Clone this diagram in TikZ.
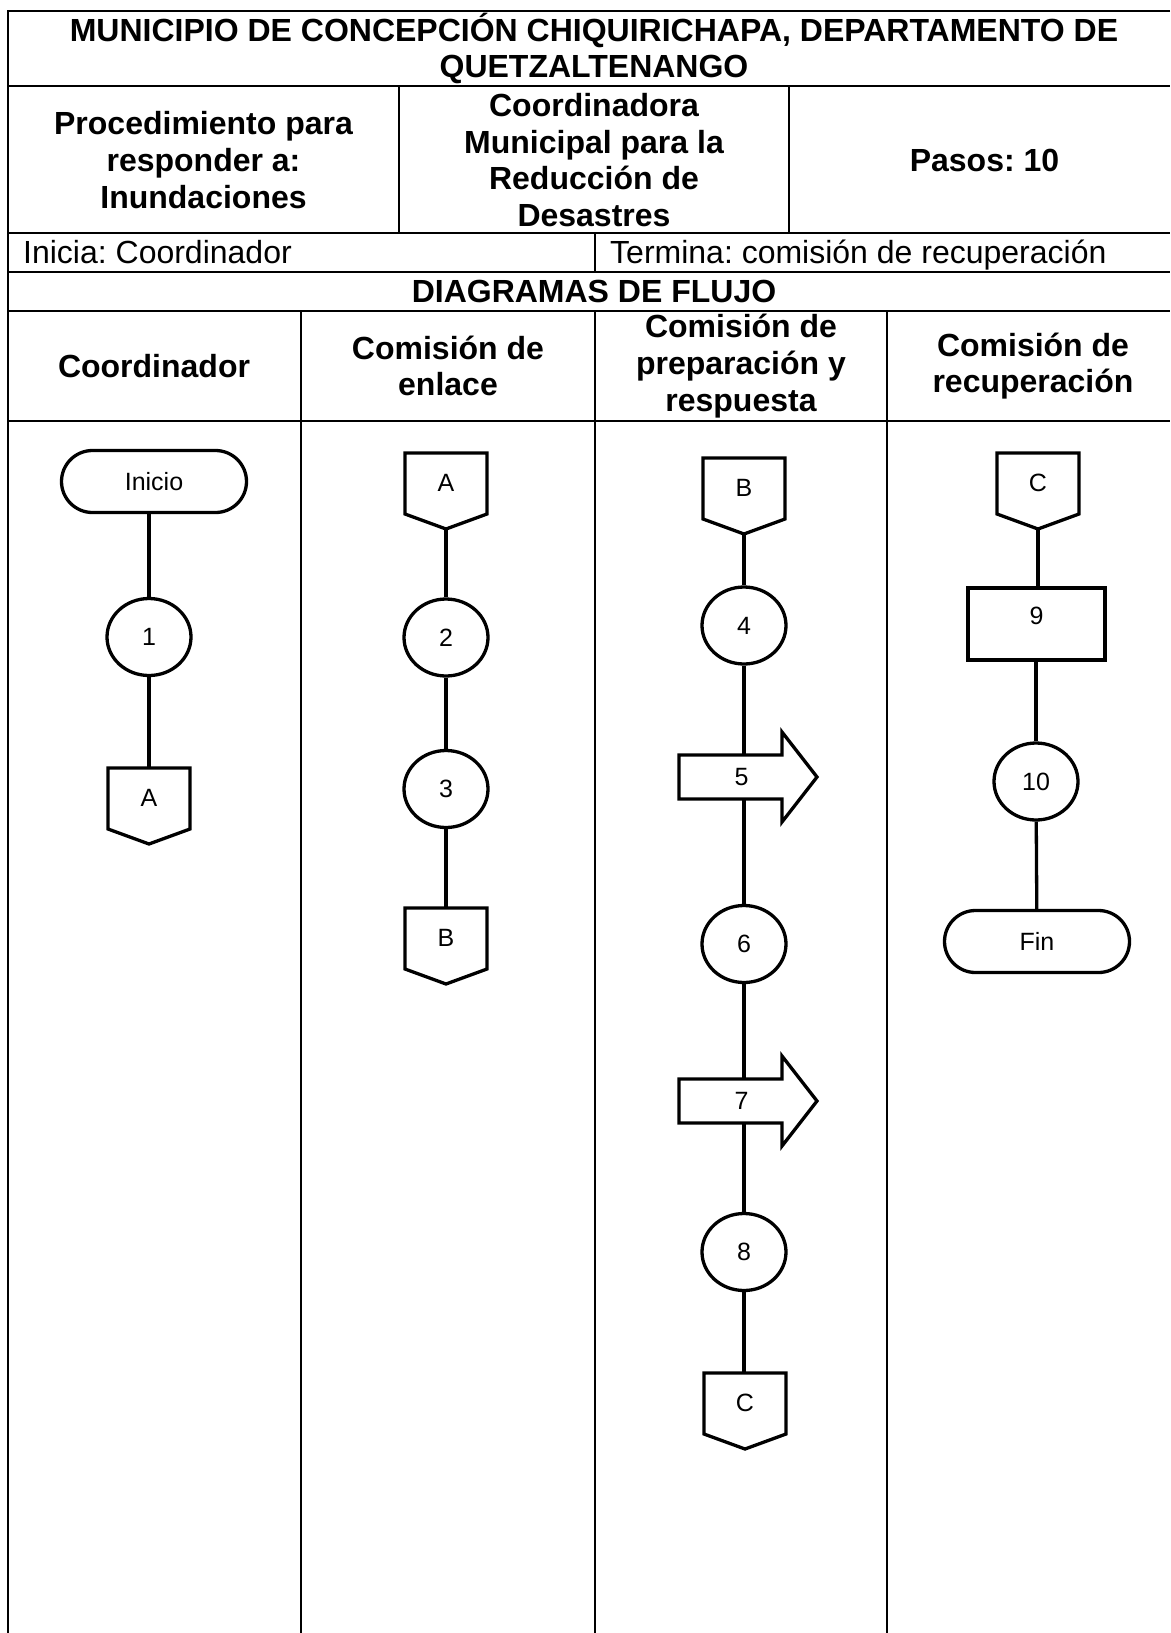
\documentclass[tikz,border=0pt]{standalone}
\usepackage{fontspec}
\setmainfont{Liberation Sans}
\frenchspacing
\usetikzlibrary{shapes.geometric,calc}
\tikzset{
  tbl/.style={line width=2pt},
  hdr/.style={font=\fontsize{32}{36.8}\selectfont\bfseries, align=center, inner sep=0pt},
  txt/.style={font=\fontsize{32}{36.8}\selectfont, inner sep=0pt},
  shapeline/.style={draw, line width=3.3pt, fill=white},
  lbl/.style={font=\fontsize{25}{28}\selectfont, inner sep=0pt},
  stepcirc/.style={shapeline, ellipse, minimum width=84pt, minimum height=77pt, inner sep=0pt, lbl},
  term/.style={shapeline, rectangle, rounded corners=31pt, minimum width=185pt, minimum height=62pt, inner sep=0pt},
  procbox/.style={shapeline, rectangle, minimum width=137pt, minimum height=72pt, inner sep=0pt},
  flow/.style={line width=3.3pt},
  ghost/.style={inner sep=0pt, outer sep=0pt}
}
\newcommand\offpg[4]{%
  \node[ghost, minimum width=82pt, minimum height=76pt] (#1) at (#2,#3+38) {};
  \draw[shapeline] (#1.north west) -- (#1.north east) -- ($(#1.south east)+(0,-15)$) -- (#1.south) -- ($(#1.south west)+(0,-15)$) -- cycle;
  \node[lbl] (#1t) at ($(#1.north)+(0,30)$) {#4};
}
\newcommand\bigarrow[4]{%
  \node[ghost, minimum width=103pt, minimum height=44pt] (#1) at (#2,#3) {};
  \draw[shapeline] (#1.north west) -- (#1.north east) -- ($(#1.north east)+(0,-23)$) -- ($(#1.east)+(35,0)$) -- ($(#1.south east)+(0,23)$) -- (#1.south east) -- (#1.south west) -- cycle;
  \node[lbl] (#1t) at ($(#1.center)+(11,0)$) {#4};
}
\begin{document}
\begin{tikzpicture}[x=1pt,y=-1pt]
\useasboundingbox (0,0) rectangle (1170,1633);
% ---- table grid ----
\coordinate (TL) at (8,11);
\draw[tbl] (1170,11) -- (TL) -- (8,1633);
\draw[tbl] (8,86) -- (1170,86);
\draw[tbl] (8,233) -- (1170,233);
\draw[tbl] (8,272) -- (1170,272);
\draw[tbl] (8,311) -- (1170,311);
\draw[tbl] (8,421) -- (1170,421);
\draw[tbl] (399,86) -- (399,233);
\draw[tbl] (789,86) -- (789,233);
\draw[tbl] (595,233) -- (595,272);
\draw[tbl] (301,311) -- (301,1633);
\draw[tbl] (595,311) -- (595,1633);
\draw[tbl] (887,311) -- (887,1633);
% ---- header texts ----
\node[hdr] (title) at (594,48.5) {MUNICIPIO DE CONCEPCIÓN CHIQUIRICHAPA, DEPARTAMENTO DE\\QUETZALTENANGO};
\node[hdr] (proc) at (203.5,160) {Procedimiento para\\responder a:\\Inundaciones};
\node[hdr] (coord) at (594,160) {Coordinadora\\Municipal para la\\Reducción de\\Desastres};
\node[hdr] (pasos) at (984.5,160) {Pasos: 10};
\node[txt, anchor=base west] (inicia) at (23,263) {Inicia: Coordinador};
\node[txt, anchor=base west] (termina) at (610,263) {Termina: comisión de recuperación};
\node[hdr] (diag) at (594,291.5) {DIAGRAMAS DE FLUJO};
\node[hdr] (h1) at (154,366) {Coordinador};
\node[hdr] (h2) at (448,366) {Comisión de\\enlace};
\node[hdr] (h3) at (741,366) {Comisión de\\preparación y\\respuesta};
\node[hdr] (h4) at (1033,366) {Comisión de\\recuperación};
% ---- lane 1 ----
\node[term, lbl] (ini) at (154,481.5) {\raisebox{-3pt}{Inicio}};
\node[stepcirc] (c1) at (149,637) {1};
\draw[flow] (ini.south -| c1) -- (c1);
\draw[flow] (c1) -- (c1 |- 0,768);
\offpg{oA1}{149}{768}{A}
% ---- lane 2 ----
\offpg{oA2}{446}{453}{A}
\node[stepcirc] (c2) at (446,637.5) {2};
\node[stepcirc] (c3) at (446,789) {3};
\draw[flow] (oA2.south) -- (c2);
\draw[flow] (c2) -- (c3);
\draw[flow] (c3) -- (c3 |- 0,908);
\offpg{oB2}{446}{908}{B}
% ---- lane 3 ----
\offpg{oB3}{744}{458}{B}
\node[stepcirc] (c4) at (744,625.5) {4};
\node[stepcirc] (c6) at (744,944) {6};
\node[stepcirc] (c8) at (744,1252) {8};
\draw[flow] (oB3.south) -- (c4);
\draw[flow] (c4) -- (c6);
\draw[flow] (c6) -- (c8);
\draw[flow] (c8) -- (c8 |- 0,1373);
\bigarrow{s5}{730.5}{777}{5}
\bigarrow{s7}{730.5}{1101}{7}
\offpg{oC3}{745}{1373}{C}
% ---- lane 4 ----
\offpg{oC4}{1038}{453}{C}
\node[procbox] (p9) at (1036.5,624) {};
\node[lbl] (p9t) at (1036.5,616) {9};
\node[stepcirc] (c10) at (1036,781.5) {10};
\node[term, lbl] (fin) at (1037,941.5) {Fin};
\draw[flow] (oC4.south) -- (p9.north -| oC4.south);
\draw[flow] (p9.south -| c10) -- (c10);
\draw[flow] (c10) -- (fin);
\end{tikzpicture}
\end{document}
